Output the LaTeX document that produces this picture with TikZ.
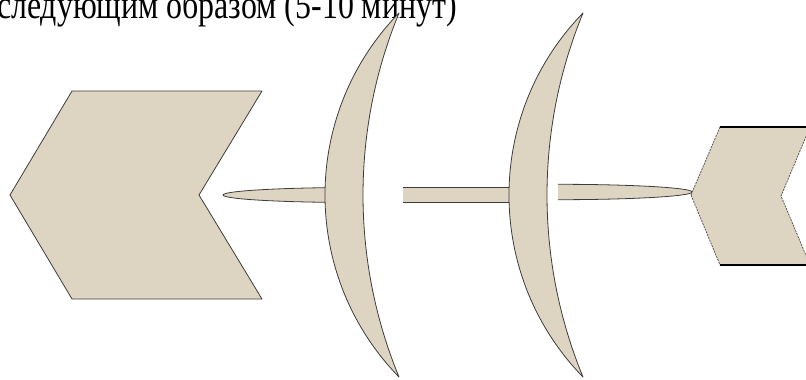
\documentclass[tikz,border=0pt]{standalone}
\usepackage{fontspec}
\setmainfont{Liberation Serif}
\definecolor{bone}{RGB}{221,213,194}
\definecolor{boneline}{RGB}{60,60,60}
\begin{document}
\begin{tikzpicture}[
    x=1pt, y=1pt,
    part/.style={fill=bone, draw=boneline, line width=0.8pt, line join=round},
    rim/.style={draw=boneline, line width=0.8pt},
    ghost/.style={fill=bone, draw=gray!70!black, dash pattern=on 2pt off 1pt,
      line width=0.8pt},
    border/.style={draw=black, line width=2.2pt}]
  \useasboundingbox (0,0) rectangle (806,-380);
  \clip (0,0) rectangle (806,-380);
  % caption line, cut at the top
  \node[anchor=base east, inner sep=0pt, yscale=1.25, transform shape,
    font=\fontsize{31.9}{38}\selectfont]
    (cap) at (457,-19) {следующим образом (5-10 минут)};
  % head
  \draw[part] (10,-195) -- (72,-91) -- (262,-91) -- (199,-195)
    -- (262,-299) -- (72,-299) -- cycle;
  % spine pieces
  \draw[part] (355,-187.5) arc[start angle=90, end angle=270,
    x radius=132, y radius=7.5] -- cycle;
  \fill[bone] (403,-187.5) rectangle (530,-202.5);
  \draw[rim] (403,-187.5) -- (530,-187.5) (403,-202.5) -- (530,-202.5);
  \fill[bone] (558,-184.3) arc[start angle=90, end angle=-90,
    x radius=134, y radius=7.7] -- cycle;
  \draw[rim] (558,-184.3) arc[start angle=90, end angle=-90,
    x radius=134, y radius=7.7];
  % ribs
  \foreach \dx in {0,184} {
    \draw[part] (399+\dx,-13)
      arc[start angle=135.74, end angle=224.26, radius=260.8]
      arc[start angle=202.38, end angle=157.62, radius=478] -- cycle;
  }
  % tail
  \draw[ghost] (691,-195) -- (720,-127) -- (810,-127) -- (781,-196)
    -- (810,-265) -- (720,-265) -- cycle;
  \draw[border] (720,-127) -- (810,-127) (720,-265) -- (810,-265);
\end{tikzpicture}
\end{document}
